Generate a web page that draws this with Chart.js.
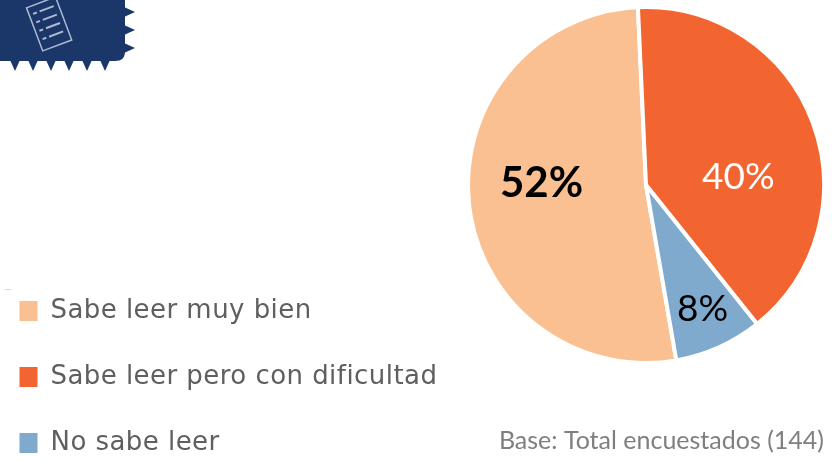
<!DOCTYPE html>
<html><head><meta charset="utf-8">
<style>html,body{margin:0;padding:0;background:#fff}canvas{display:block}</style>
<script src="https://cdn.jsdelivr.net/npm/chart.js@4"></script></head>
<body><canvas id="c" width="834" height="462"></canvas>
<script>
const categories = ["Sabe leer muy bien","Sabe leer pero con dificultad","No sabe leer"];
const values = [52,40,8];
const colors = ["#FBC091","#F26531","#7FAACD"];
const valueLabels = ["52%","40%","8%"];
const baseNote = "Base: Total encuestados (144)";

const labelStyles = [
 {font:"bold 42px Lato",color:"#000",dx:-16,dy:-11},
 {font:"37px Lato",color:"#fff",dx:9,dy:23},
 {font:"37px Lato",color:"#000",dx:20,dy:43}
];

const layoutPlugin = {
 id:"layoutTweaks",
 afterLayout(chart){
  const l = chart.legend;
  l.left = -20.5; l.right = 470; l.top = 258; l.bottom = 640;
  const a = chart.chartArea;
  a.left = 466; a.right = 826; a.top = 5; a.bottom = 365;
  a.width = a.right - a.left; a.height = a.bottom - a.top;
 }
};
const badgePlugin = {
 id:"badge",
 beforeDraw(chart){
  const c = chart.ctx; c.save();
  c.fillStyle = "#1B3668";
  c.beginPath(); c.moveTo(0,0); c.lineTo(125,0); c.lineTo(125,52);
  c.quadraticCurveTo(125,61,115,61); c.lineTo(0,61); c.closePath(); c.fill();
  [15,33,51,69,87,105].forEach(x=>{c.beginPath();c.moveTo(x-5,60);c.lineTo(x+5,60);c.lineTo(x,71);c.closePath();c.fill();});
  [12,30,48].forEach(y=>{c.beginPath();c.moveTo(124,y-5);c.lineTo(124,y+5);c.lineTo(135,y);c.closePath();c.fill();});
  c.translate(49,25); c.rotate(-0.36);
  c.strokeStyle = "#AEBBD3"; c.lineWidth = 1.5;
  c.strokeRect(-15,-24,31,46);
  c.lineWidth = 2;
  [-16,-7,2,11].forEach(y=>{c.beginPath();c.moveTo(-4,y);c.lineTo(11,y);c.moveTo(-11,y);c.lineTo(-7,y);c.stroke();});
  c.restore();
  c.fillStyle = "#F9CDA8"; c.fillRect(5,289,6,1);
  c.letterSpacing = "0.45px";
 }
};
const labelPlugin = {
 id:"sliceLabels",
 afterDatasetsDraw(chart){
  const c = chart.ctx, arcs = chart.getDatasetMeta(0).data;
  c.save(); c.letterSpacing = "0px"; c.textAlign="center"; c.textBaseline="middle";
  arcs.forEach((a,i)=>{
   const p = a.tooltipPosition(), s = labelStyles[i];
   c.font = s.font; c.fillStyle = s.color;
   c.fillText(valueLabels[i], p.x+s.dx, p.y+s.dy);
  });
  c.font = "25px Lato"; c.fillStyle = "#7F7F7F"; c.textAlign="right";
  c.fillText(baseNote, 824, 441);
  c.restore();
 }
};
new Chart(document.getElementById("c"),{
 type:"pie",
 data:{labels:categories,datasets:[{data:values,backgroundColor:colors,borderColor:"#fff",borderWidth:4,hoverOffset:0}]},
 options:{
  responsive:false,animation:false,
  rotation:-189.8,
  plugins:{
   tooltip:{enabled:false},
   legend:{position:"left",align:"start",
    labels:{boxWidth:18,boxHeight:20,padding:40,color:"#5F5F5F",font:{family:"DejaVu Sans",size:26},
     generateLabels(chart){
      return categories.map((t,i)=>({text:t,fillStyle:colors[i],strokeStyle:colors[i],lineWidth:0,fontColor:"#5F5F5F",hidden:false,index:i}));
     }}}
  }
 },
 plugins:[layoutPlugin,badgePlugin,labelPlugin]
});
</script></body></html>
